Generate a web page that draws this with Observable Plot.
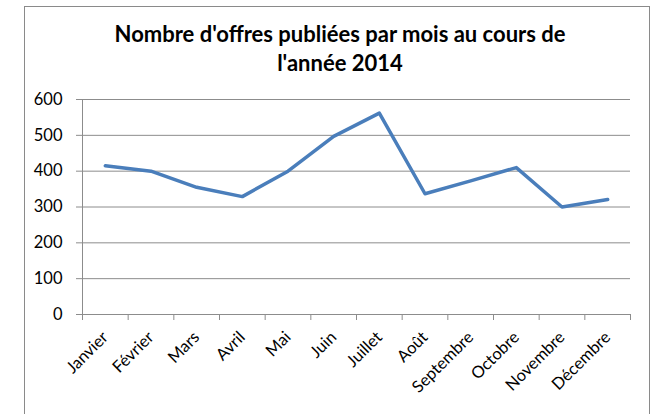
<!DOCTYPE html>
<html><head><meta charset="utf-8">
<script src="https://cdn.jsdelivr.net/npm/d3@7"></script>
<script src="https://cdn.jsdelivr.net/npm/@observablehq/plot@0.6"></script>
<style>
body{margin:0;background:#fff;}
#wrap{position:relative;width:653px;height:414px;overflow:hidden;font-family:Lato,"Open Sans",sans-serif;}
#frame{position:absolute;left:24px;top:6px;width:626px;height:440px;border:1px solid #8a8a8a;box-sizing:border-box;}
#title{position:absolute;left:24px;width:632px;top:19px;text-align:center;font-weight:bold;font-size:22px;line-height:29px;color:#000;}
#chart{position:absolute;left:0;top:0;}
</style></head><body>
<div id="wrap"><div id="frame"></div><div id="title">Nombre d'offres publiées par mois au cours de<br>l'année 2014</div><div id="chart"></div></div>
<script>
const months = ["Janvier","Février","Mars","Avril","Mai","Juin","Juillet","Août","Septembre","Octobre","Novembre","Décembre"];
const offers = [415, 400, 355, 329, 400, 497, 562, 337, 373, 410, 300, 321];
const yTicks = [0, 100, 200, 300, 400, 500, 600];

const data = months.map((m, i) => ({month: m, idx: i, value: offers[i]}));
const gray = "#8c8c8c";

const chart = Plot.plot({
  width: 653, height: 414,
  marginLeft: 82, marginRight: 23, marginTop: 99, marginBottom: 100,
  style: {fontFamily: "Lato, 'Open Sans', sans-serif", fontSize: "16.5px", color: "#000", background: "transparent"},
  x: {type: "linear", domain: [0, months.length]},
  y: {domain: [0, 600]},
  marks: [
    Plot.gridY(yTicks, {stroke: gray, strokeOpacity: 1, strokeWidth: 1}),
    Plot.ruleX([0], {stroke: gray}),
    Plot.ruleY([0], {stroke: gray}),
    Plot.axisY({ticks: yTicks, tickSize: 6, tickPadding: 14, stroke: gray, fill: "#000", label: null}),
    Plot.axisX({ticks: d3.range(0, months.length + 1), tickSize: 6, stroke: gray, text: null, label: null}),
    Plot.axisX({ticks: months.map((_, i) => i + 0.5), tickFormat: v => months[Math.floor(v)], tickSize: 0, tickPadding: 20, tickRotate: -45, fill: "#000", label: null}),
    Plot.line(data, {x: d => d.idx + 0.5, y: "value", stroke: "#4a7ebb", strokeWidth: 3.5})
  ]
});
document.getElementById("chart").append(chart);
</script>
</body></html>
